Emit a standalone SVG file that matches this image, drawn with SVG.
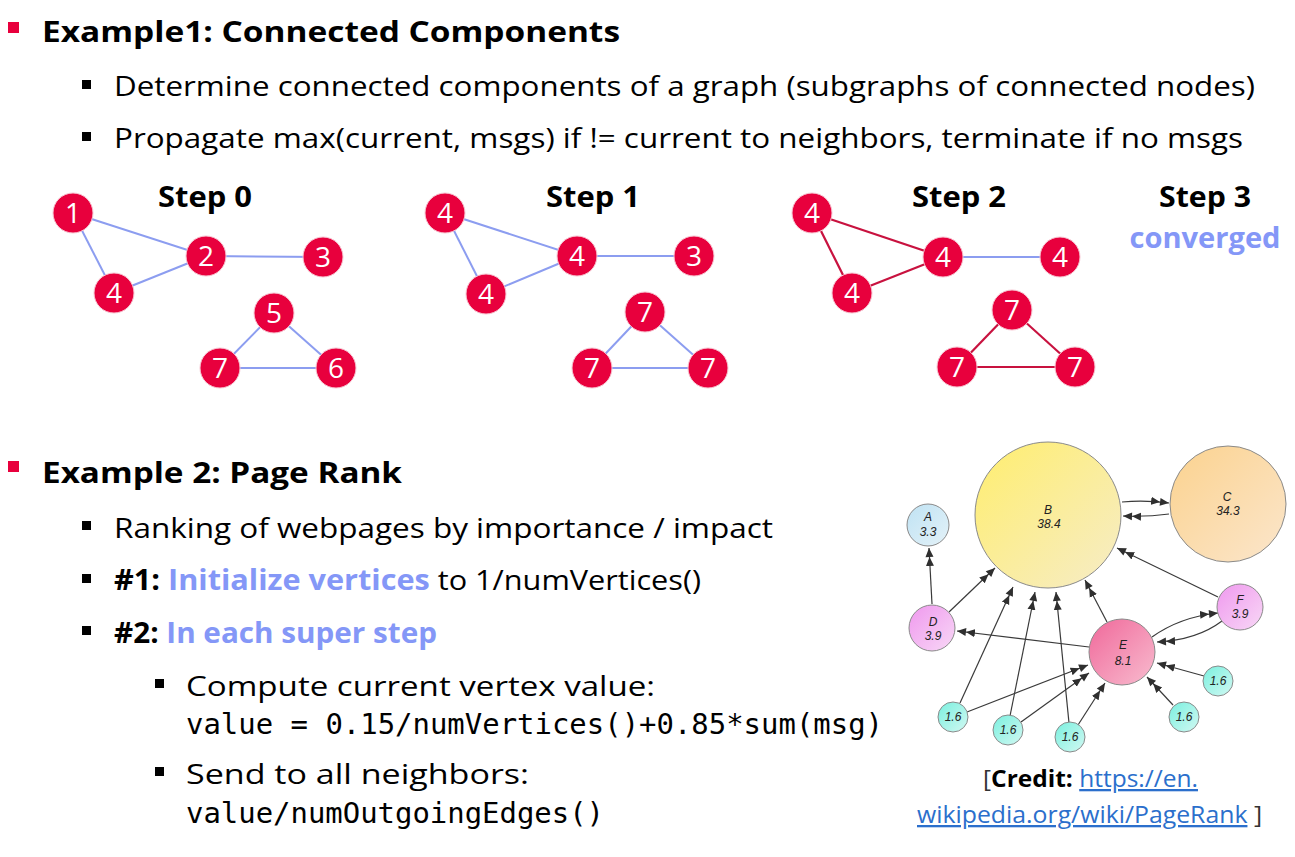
<svg xmlns="http://www.w3.org/2000/svg" width="1295" height="857" viewBox="0 0 1295 857">
  <style>
    .body { font-family: "Open Sans", "Liberation Sans", sans-serif; font-size: 28px; fill: #000; }
    .bold { font-weight: bold; }
    .accent { fill: #8497f7; font-weight: bold; }
    .code { font-family: "DejaVu Sans Mono", "Liberation Mono", monospace; font-size: 28px; fill: #000; }
    .step { font-family: "Open Sans", "Liberation Sans", sans-serif; font-size: 29px; font-weight: bold; text-anchor: middle; }
    .vnode circle { fill: #e8003d; stroke: #f7c6d2; stroke-width: 1; }
    .vnode text { font-family: "Open Sans", "Liberation Sans", sans-serif; font-size: 28px; fill: #fff; text-anchor: middle; }
    .eb { stroke: #8c9df0; stroke-width: 2; }
    .er { stroke: #c8123f; stroke-width: 2.2; }
    .pr circle { stroke: #8a8a8a; stroke-width: 1; }
    .pr text { font-family: "Liberation Sans", Arial, sans-serif; font-style: italic; font-size: 12px; fill: #222; text-anchor: middle; }
    .arc { stroke: #3a3a3a; stroke-width: 1.2; fill: none; marker-end: url(#dbl); }
    .credit { font-family: "Open Sans", "Liberation Sans", sans-serif; font-size: 23px; fill: #333; }
    .link { fill: #2b6fcc; text-decoration: underline; }
  </style>
  <defs>
    <marker id="dbl" markerUnits="userSpaceOnUse" markerWidth="20" markerHeight="10" refX="18" refY="5" orient="auto">
      <path d="M0,1 L9,5 L0,9 z M9,1 L18,5 L9,9 z" fill="#2f2f2f"/>
    </marker>
    <linearGradient id="gA" x1="0" y1="0" x2="1" y2="1"><stop offset="0" stop-color="#bfe2f3"/><stop offset="1" stop-color="#e4f2f8"/></linearGradient>
    <linearGradient id="gB" x1="0" y1="0" x2="1" y2="1"><stop offset="0" stop-color="#ffee6e"/><stop offset="1" stop-color="#f6ecc8"/></linearGradient>
    <linearGradient id="gC" x1="0" y1="0" x2="1" y2="1"><stop offset="0" stop-color="#fbd28e"/><stop offset="1" stop-color="#fbe6cc"/></linearGradient>
    <linearGradient id="gD" x1="0" y1="0" x2="1" y2="1"><stop offset="0" stop-color="#ef98ee"/><stop offset="1" stop-color="#f8d8f6"/></linearGradient>
    <linearGradient id="gE" x1="0" y1="0" x2="1" y2="1"><stop offset="0" stop-color="#f0689a"/><stop offset="1" stop-color="#f8bccf"/></linearGradient>
    <linearGradient id="gS" x1="0" y1="0" x2="1" y2="1"><stop offset="0" stop-color="#7af0df"/><stop offset="1" stop-color="#d2f8f2"/></linearGradient>
  </defs>

  <rect width="1295" height="857" fill="#fff"/>

  <!-- Example 1 text -->
  <g id="example1-text">
    <rect x="8" y="22" width="11" height="11" fill="#e8003d"/>
    <text class="body bold" x="42" y="42" font-size="30" textLength="578" lengthAdjust="spacingAndGlyphs">Example1: Connected Components</text>
    <rect x="82" y="80" width="9" height="9" fill="#000"/>
    <text class="body" x="114" y="96" textLength="1141" lengthAdjust="spacingAndGlyphs">Determine connected components of a graph (subgraphs of connected nodes)</text>
    <rect x="82" y="132" width="9" height="9" fill="#000"/>
    <text class="body" x="114" y="148" textLength="1129" lengthAdjust="spacingAndGlyphs">Propagate max(current, msgs) if != current to neighbors, terminate if no msgs</text>
  </g>

  <!-- Step labels -->
  <g id="step-labels">
    <text class="step" x="205" y="207" textLength="94" lengthAdjust="spacingAndGlyphs">Step 0</text>
    <text class="step" x="593" y="207" textLength="94" lengthAdjust="spacingAndGlyphs">Step 1</text>
    <text class="step" x="959" y="207" textLength="94" lengthAdjust="spacingAndGlyphs">Step 2</text>
    <text class="step" x="1205" y="207" textLength="92" lengthAdjust="spacingAndGlyphs">Step 3</text>
    <text class="step" x="1205" y="248" fill="#8497f7" textLength="151" lengthAdjust="spacingAndGlyphs">converged</text>
  </g>

  <!-- Component graph edges -->
  <g id="cc-edges">
    <!-- step 0 -->
    <line class="eb" x1="73" y1="213" x2="206" y2="256"/>
    <line class="eb" x1="73" y1="213" x2="114" y2="293"/>
    <line class="eb" x1="114" y1="293" x2="206" y2="256"/>
    <line class="eb" x1="206" y1="256" x2="323" y2="257"/>
    <line class="eb" x1="274" y1="313" x2="220" y2="368"/>
    <line class="eb" x1="274" y1="313" x2="336" y2="368"/>
    <line class="eb" x1="220" y1="368" x2="336" y2="368"/>
    <!-- step 1 -->
    <line class="eb" x1="445" y1="213" x2="577" y2="256"/>
    <line class="eb" x1="445" y1="213" x2="486" y2="294"/>
    <line class="eb" x1="486" y1="294" x2="577" y2="256"/>
    <line class="eb" x1="577" y1="256" x2="694" y2="256"/>
    <line class="eb" x1="645" y1="312" x2="592" y2="368"/>
    <line class="eb" x1="645" y1="312" x2="708" y2="368"/>
    <line class="eb" x1="592" y1="368" x2="708" y2="368"/>
    <!-- step 2 -->
    <line class="er" x1="812" y1="213" x2="943" y2="257"/>
    <line class="er" x1="812" y1="213" x2="852" y2="293"/>
    <line class="er" x1="852" y1="293" x2="943" y2="257"/>
    <line class="eb" x1="943" y1="257" x2="1060" y2="257"/>
    <line class="er" x1="1012" y1="310" x2="957" y2="367"/>
    <line class="er" x1="1012" y1="310" x2="1075" y2="367"/>
    <line class="er" x1="957" y1="367" x2="1075" y2="367"/>
  </g>

  <!-- Step 0 vertices -->
  <g id="s0-v1" class="vnode"><circle cx="73" cy="213" r="20"/><text x="73" y="223">1</text></g>
  <g id="s0-v2" class="vnode"><circle cx="206" cy="256" r="20"/><text x="206" y="266">2</text></g>
  <g id="s0-v3" class="vnode"><circle cx="323" cy="257" r="20"/><text x="323" y="267">3</text></g>
  <g id="s0-v4" class="vnode"><circle cx="114" cy="293" r="20"/><text x="114" y="303">4</text></g>
  <g id="s0-v5" class="vnode"><circle cx="274" cy="313" r="20"/><text x="274" y="323">5</text></g>
  <g id="s0-v6" class="vnode"><circle cx="336" cy="368" r="20"/><text x="336" y="378">6</text></g>
  <g id="s0-v7" class="vnode"><circle cx="220" cy="368" r="20"/><text x="220" y="378">7</text></g>

  <!-- Step 1 vertices -->
  <g id="s1-v1" class="vnode"><circle cx="445" cy="213" r="20"/><text x="445" y="223">4</text></g>
  <g id="s1-v2" class="vnode"><circle cx="577" cy="256" r="20"/><text x="577" y="266">4</text></g>
  <g id="s1-v3" class="vnode"><circle cx="694" cy="256" r="20"/><text x="694" y="266">3</text></g>
  <g id="s1-v4" class="vnode"><circle cx="486" cy="294" r="20"/><text x="486" y="304">4</text></g>
  <g id="s1-v5" class="vnode"><circle cx="645" cy="312" r="20"/><text x="645" y="322">7</text></g>
  <g id="s1-v6" class="vnode"><circle cx="708" cy="368" r="20"/><text x="708" y="378">7</text></g>
  <g id="s1-v7" class="vnode"><circle cx="592" cy="368" r="20"/><text x="592" y="378">7</text></g>

  <!-- Step 2 vertices -->
  <g id="s2-v1" class="vnode"><circle cx="812" cy="213" r="20"/><text x="812" y="223">4</text></g>
  <g id="s2-v2" class="vnode"><circle cx="943" cy="257" r="20"/><text x="943" y="267">4</text></g>
  <g id="s2-v3" class="vnode"><circle cx="1060" cy="257" r="20"/><text x="1060" y="267">4</text></g>
  <g id="s2-v4" class="vnode"><circle cx="852" cy="293" r="20"/><text x="852" y="303">4</text></g>
  <g id="s2-v5" class="vnode"><circle cx="1012" cy="310" r="20"/><text x="1012" y="320">7</text></g>
  <g id="s2-v6" class="vnode"><circle cx="1075" cy="367" r="20"/><text x="1075" y="377">7</text></g>
  <g id="s2-v7" class="vnode"><circle cx="957" cy="367" r="20"/><text x="957" y="377">7</text></g>

  <!-- Example 2 text -->
  <g id="example2-text">
    <rect x="8" y="461" width="11" height="11" fill="#e8003d"/>
    <text class="body bold" x="42" y="483" font-size="30" textLength="360" lengthAdjust="spacingAndGlyphs">Example 2: Page Rank</text>
    <rect x="82" y="521" width="9" height="9" fill="#000"/>
    <text class="body" x="114" y="538" textLength="659" lengthAdjust="spacingAndGlyphs">Ranking of webpages by importance / impact</text>
    <rect x="82" y="574" width="9" height="9" fill="#000"/>
    <text class="body" x="114" y="590" textLength="587" lengthAdjust="spacingAndGlyphs"><tspan class="bold">#1: </tspan><tspan class="accent">Initialize vertices</tspan> to 1/numVertices()</text>
    <rect x="82" y="626" width="9" height="9" fill="#000"/>
    <text class="body" x="114" y="643" textLength="323" lengthAdjust="spacingAndGlyphs"><tspan class="bold">#2: </tspan><tspan class="accent">In each super step</tspan></text>
    <rect x="155" y="679" width="9" height="9" fill="#000"/>
    <text class="body" x="186" y="696" textLength="469" lengthAdjust="spacingAndGlyphs">Compute current vertex value:</text>
    <text class="code" x="186" y="734" textLength="697" lengthAdjust="spacingAndGlyphs">value = 0.15/numVertices()+0.85*sum(msg)</text>
    <rect x="155" y="767" width="9" height="9" fill="#000"/>
    <text class="body" x="186" y="784" textLength="343" lengthAdjust="spacingAndGlyphs">Send to all neighbors:</text>
    <text class="code" x="186" y="823" textLength="418" lengthAdjust="spacingAndGlyphs">value/numOutgoingEdges()</text>
  </g>

  <!-- PageRank graph connectors -->
  <g id="pr-edges">
    <line class="arc" x1="932" y1="604" x2="929" y2="548"/>
    <line class="arc" x1="949" y1="612" x2="995" y2="568"/>
    <line class="arc" x1="1089" y1="647" x2="957" y2="631"/>
    <line class="arc" x1="1107" y1="622" x2="1085" y2="580"/>
    <line class="arc" x1="1218" y1="597" x2="1117" y2="548"/>
    <path class="arc" d="M1122,502 Q1145,500 1169,503"/>
    <path class="arc" d="M1169,514 Q1147,517 1123,516"/>
    <path class="arc" d="M1152,637 Q1180,617 1218,613"/>
    <path class="arc" d="M1222,621 Q1197,640 1157,642"/>
    <line class="arc" x1="960" y1="703" x2="1013" y2="587"/>
    <line class="arc" x1="967" y1="712" x2="1088" y2="665"/>
    <line class="arc" x1="1010" y1="716" x2="1035" y2="592"/>
    <line class="arc" x1="1021" y1="722" x2="1089" y2="673"/>
    <line class="arc" x1="1069" y1="723" x2="1056" y2="592"/>
    <line class="arc" x1="1078" y1="725" x2="1105" y2="683"/>
    <line class="arc" x1="1173" y1="705" x2="1147" y2="677"/>
    <line class="arc" x1="1204" y1="676" x2="1157" y2="663"/>
  </g>

  <!-- PageRank graph nodes -->
  <g id="pr-B" class="pr"><circle cx="1048" cy="515" r="73" fill="url(#gB)"/><text x="1048" y="514">B</text><text x="1049" y="528">38.4</text></g>
  <g id="pr-C" class="pr"><circle cx="1228" cy="504" r="58" fill="url(#gC)"/><text x="1227" y="501">C</text><text x="1228" y="515">34.3</text></g>
  <g id="pr-A" class="pr"><circle cx="928" cy="525" r="21" fill="url(#gA)"/><text x="928" y="521">A</text><text x="928" y="536">3.3</text></g>
  <g id="pr-D" class="pr"><circle cx="932" cy="628" r="23" fill="url(#gD)"/><text x="933" y="626">D</text><text x="933" y="640">3.9</text></g>
  <g id="pr-E" class="pr"><circle cx="1122" cy="652" r="33" fill="url(#gE)"/><text x="1123" y="649" font-size="13">E</text><text x="1123" y="665" font-size="13">8.1</text></g>
  <g id="pr-F" class="pr"><circle cx="1240" cy="607" r="23" fill="url(#gD)"/><text x="1240" y="604">F</text><text x="1240" y="618">3.9</text></g>
  <g id="pr-s1" class="pr"><circle cx="953" cy="717" r="15" fill="url(#gS)"/><text x="953" y="721">1.6</text></g>
  <g id="pr-s2" class="pr"><circle cx="1008" cy="730" r="15" fill="url(#gS)"/><text x="1008" y="734">1.6</text></g>
  <g id="pr-s3" class="pr"><circle cx="1070" cy="737" r="15" fill="url(#gS)"/><text x="1070" y="741">1.6</text></g>
  <g id="pr-s4" class="pr"><circle cx="1184" cy="717" r="15" fill="url(#gS)"/><text x="1184" y="721">1.6</text></g>
  <g id="pr-s5" class="pr"><circle cx="1218" cy="681" r="15" fill="url(#gS)"/><text x="1218" y="685">1.6</text></g>

  <!-- Credit -->
  <g id="credit">
    <text class="credit" x="983" y="787" textLength="215" lengthAdjust="spacingAndGlyphs">[<tspan font-weight="bold" fill="#000">Credit:</tspan> <tspan class="link">https://en.</tspan></text>
    <text class="credit" x="917" y="823" textLength="345" lengthAdjust="spacingAndGlyphs"><tspan class="link">wikipedia.org/wiki/PageRank</tspan> ]</text>
  </g>
</svg>
